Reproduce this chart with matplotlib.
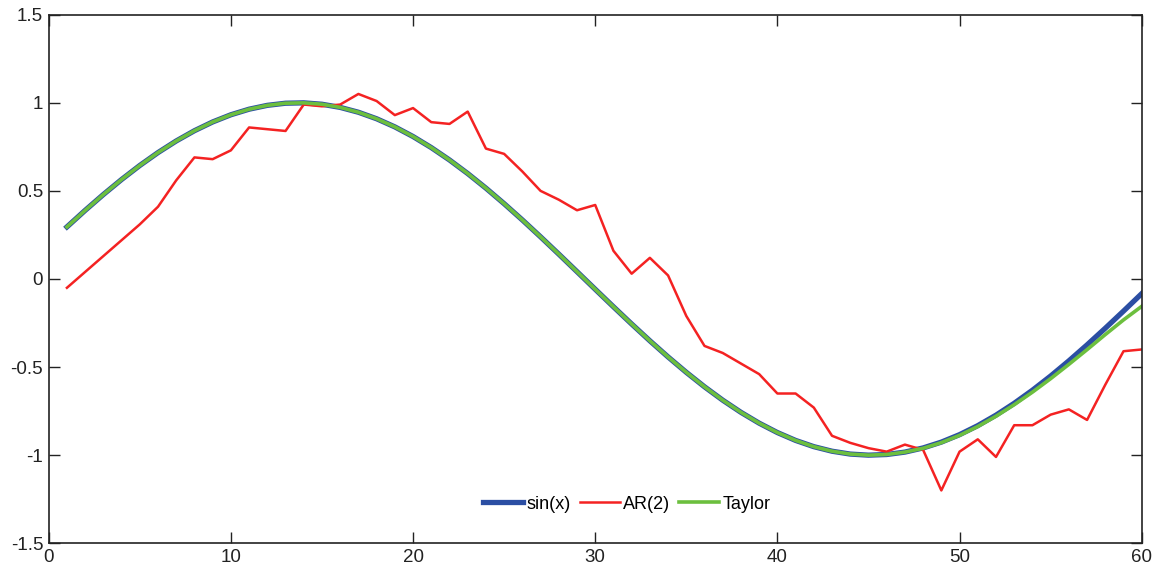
import matplotlib.pyplot as plt
import numpy as np

plt.rcParams['font.family'] = ['Liberation Sans', 'DejaVu Sans']

x = np.arange(1, 61)

sin_x = [0.2955, 0.3894, 0.4794, 0.5646, 0.6442, 0.7174, 0.7833, 0.8415, 0.8912, 0.9320,
         0.9636, 0.9854, 0.9975, 0.9996, 0.9917, 0.9738, 0.9463, 0.9093, 0.8632, 0.8085,
         0.7457, 0.6755, 0.5985, 0.5155, 0.4274, 0.3350, 0.2392, 0.1411, 0.0416, -0.0584,
         -0.1577, -0.2555, -0.3508, -0.4425, -0.5298, -0.6119, -0.6878, -0.7568, -0.8183, -0.8716,
         -0.9162, -0.9516, -0.9775, -0.9937, -0.9999, -0.9962, -0.9825, -0.9589, -0.9258, -0.8835,
         -0.8323, -0.7728, -0.7055, -0.6313, -0.5507, -0.4646, -0.3739, -0.2794, -0.1822, -0.0831]

ar2 = [-0.05, 0.04, 0.13, 0.22, 0.31, 0.41, 0.56, 0.69, 0.68, 0.73,
       0.86, 0.85, 0.84, 0.99, 0.98, 0.99, 1.05, 1.01, 0.93, 0.97,
       0.89, 0.88, 0.95, 0.74, 0.71, 0.61, 0.50, 0.45, 0.39, 0.42,
       0.16, 0.03, 0.12, 0.02, -0.21, -0.38, -0.42, -0.48, -0.54, -0.65,
       -0.65, -0.73, -0.89, -0.93, -0.96, -0.98, -0.94, -0.97, -1.20, -0.98,
       -0.91, -1.01, -0.83, -0.83, -0.77, -0.74, -0.80, -0.60, -0.41, -0.40]

taylor = [0.2955, 0.3894, 0.4794, 0.5646, 0.6442, 0.7174, 0.7833, 0.8415, 0.8912, 0.9320,
          0.9636, 0.9854, 0.9975, 0.9996, 0.9917, 0.9738, 0.9463, 0.9093, 0.8632, 0.8085,
          0.7457, 0.6755, 0.5985, 0.5155, 0.4274, 0.3350, 0.2392, 0.1411, 0.0416, -0.0584,
          -0.1577, -0.2555, -0.3508, -0.4425, -0.5298, -0.6119, -0.6878, -0.7568, -0.8183, -0.8716,
          -0.9162, -0.9516, -0.9775, -0.9937, -0.9999, -0.9962, -0.9825, -0.9609, -0.9288, -0.8875,
          -0.8373, -0.7788, -0.7135, -0.6423, -0.5657, -0.4846, -0.4009, -0.3154, -0.2322, -0.1551]

fig = plt.figure(figsize=(11.57, 5.69), dpi=100)
ax = fig.add_axes([0.0421, 0.0452, 0.9447, 0.929])

ax.plot(x, sin_x, color='#2b4ea3', lw=3.8, label='sin(x)')
ax.plot(x, ar2, color='#f42222', lw=1.8, label='AR(2)')
ax.plot(x, taylor, color='#6cbf3e', lw=2.6, label='Taylor')

ax.set_xlim(0, 60)
ax.set_ylim(-1.5, 1.5)
ax.set_xticks(np.arange(0, 61, 10))
ax.set_yticks([-1.5, -1, -0.5, 0, 0.5, 1, 1.5])
ax.set_yticklabels(['-1.5', '-1', '-0.5', '0', '0.5', '1', '1.5'])

# ticks on all four sides, pointing in
ax.tick_params(direction='in', length=8, width=1, labelsize=13.5, colors='#222222',
               top=True, right=True, pad=4)
for s in ax.spines.values():
    s.set_linewidth(1.2)
    s.set_color('#222222')

ax.legend(loc='center', bbox_to_anchor=(0.529, 0.074), ncol=3, frameon=False,
          fontsize=13, handlelength=2.2, handletextpad=0.2, columnspacing=0.5)

fig.savefig('out.png', dpi=100)
